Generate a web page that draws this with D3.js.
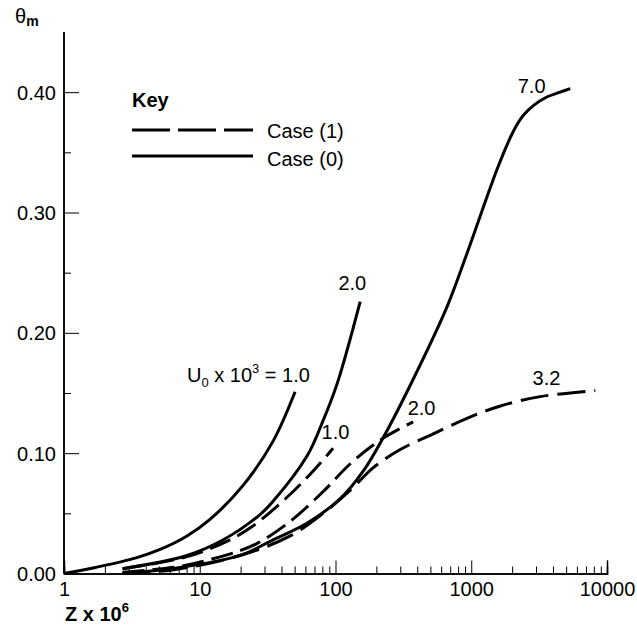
<!DOCTYPE html>
<html>
<head>
<meta charset="utf-8">
<script src="https://cdn.jsdelivr.net/npm/d3@7"></script>
<style>
  html, body { margin: 0; padding: 0; background: #fff; }
  svg { display: block; }
  text { font-family: "Liberation Sans", Arial, sans-serif; fill: #000; }
</style>
</head>
<body>
<svg id="chart" width="637" height="631"></svg>
<script>
// ---- data (Z x 10^6, theta_m) ----
const solid1Z  = [1, 1.7, 3.4, 5.1, 8, 11.9, 20.8, 34.7, 50.4];
const solid1T  = [0.0, 0.005, 0.013, 0.020, 0.031, 0.045, 0.073, 0.110, 0.151];

const solid2Z  = [2.7, 8.06, 14.9, 27.8, 34.7, 62, 81, 103, 152];
const solid2T  = [0.004, 0.015, 0.028, 0.049, 0.060, 0.098, 0.127, 0.158, 0.226];

const solid7Z  = [2.7, 7.2, 19.8, 34.7, 62, 108, 160, 225, 372, 665, 930, 1260, 1550, 1935, 2170, 2430, 2880, 3600, 4520, 5360];
const solid7T  = [0.0, 0.005, 0.015, 0.028, 0.042, 0.062, 0.085, 0.113, 0.161, 0.222, 0.266, 0.308, 0.336, 0.362, 0.373, 0.381, 0.389, 0.396, 0.400, 0.403];

const dashed1Z = [2.7, 8.06, 16.7, 24.3, 39, 62, 96];
const dashed1T = [0.004, 0.014, 0.028, 0.039, 0.058, 0.080, 0.104];

const dashed2Z = [2.7, 7.2, 12.3, 19.8, 26.5, 46, 81, 128, 214, 373];
const dashed2T = [0.001, 0.006, 0.012, 0.019, 0.025, 0.043, 0.068, 0.091, 0.111, 0.126];

const dashed3Z = [2.7, 6.3, 19.8, 46, 81, 128, 190, 300, 525, 930, 1620, 3220, 8200];
const dashed3T = [0.0, 0.003, 0.015, 0.031, 0.050, 0.069, 0.088, 0.103, 0.116, 0.129, 0.139, 0.147, 0.152];

const xMajorTicks = [1, 10, 100, 1000, 10000];
const xTickLabels = ["1", "10", "100", "1000", "10000"];
const yMajorTicks = [0, 0.1, 0.2, 0.3, 0.4];
const yTickLabels = ["0.00", "0.10", "0.20", "0.30", "0.40"];
const yMinorTicks = [0.05, 0.15, 0.25, 0.35];

const curveLabels = [
  {text: "2.0", z: 105, t: 0.236},
  {text: "1.0", z: 79, t: 0.112},
  {text: "2.0", z: 340, t: 0.132},
  {text: "3.2", z: 2830, t: 0.157},
  {text: "7.0", z: 2200, t: 0.399}
];

// ---- scales ----
const svg = d3.select("#chart");
const x = d3.scaleLog().domain([1, 10000]).range([64, 607]);
const y = d3.scaleLinear().domain([0, 0.45]).range([573.5, 32]);

// minor x ticks
const xMinorTicks = [];
[1, 10, 100, 1000].forEach(d => { for (let k = 2; k <= 9; k++) xMinorTicks.push(d * k); });

// ---- axes ----
const xAxisMinor = d3.axisBottom(x).tickValues(xMinorTicks).tickSize(-7).tickFormat("");
const xAxisMajor = d3.axisBottom(x).tickValues(xMajorTicks).tickSize(-13)
  .tickFormat((d, i) => xTickLabels[i]).tickPadding(6);
const gxMinor = svg.append("g").attr("transform", "translate(0,573.5)").call(xAxisMinor);
const gx = svg.append("g").attr("transform", "translate(0,573.5)").call(xAxisMajor);
[gxMinor, gx].forEach(g => {
  g.select(".domain").attr("stroke", "#000").attr("stroke-width", 1.5);
  g.selectAll(".tick line").attr("stroke", "#000").attr("stroke-width", 1);
});
gx.selectAll(".tick text").attr("font-size", 20).attr("font-family", "Liberation Sans, Arial, sans-serif")
  .attr("y", 8).attr("dy", "0.71em");

const yAxisMinor = d3.axisLeft(y).tickValues(yMinorTicks).tickSize(-7).tickFormat("");
const yAxisMajor = d3.axisLeft(y).tickValues(yMajorTicks).tickSize(-15)
  .tickFormat((d, i) => yTickLabels[i]).tickPadding(8);
const gyMinor = svg.append("g").attr("transform", "translate(64,0)").call(yAxisMinor);
const gy = svg.append("g").attr("transform", "translate(64,0)").call(yAxisMajor);
[gyMinor, gy].forEach(g => {
  g.select(".domain").attr("stroke", "#000").attr("stroke-width", 1.5).attr("d", "M0,32V573.5");
  g.selectAll(".tick line").attr("stroke", "#000").attr("stroke-width", 1);
});
gy.selectAll(".tick text").attr("font-size", 20).attr("font-family", "Liberation Sans, Arial, sans-serif")
  .attr("x", -8).attr("dy", "0.35em");

// ---- axis titles ----
const yt = svg.append("text").attr("x", 15).attr("y", 23).attr("font-size", 20);
yt.append("tspan").text("θ");
yt.append("tspan").attr("font-size", 14).attr("font-weight", "bold").attr("dy", 3).text("m");

const xt = svg.append("text").attr("x", 65).attr("y", 621).attr("font-size", 20).attr("font-weight", "bold");
xt.append("tspan").text("Z x 10");
xt.append("tspan").attr("font-size", 13).attr("dy", -9).text("6");

// ---- curves ----
const line = d3.line().x(d => x(d[0])).y(d => y(d[1])).curve(d3.curveCatmullRom.alpha(0.5));
const zip = (a, b) => a.map((v, i) => [v, b[i]]);
const series = [
  {z: solid1Z, t: solid1T, dash: null},
  {z: solid2Z, t: solid2T, dash: null},
  {z: solid7Z, t: solid7T, dash: null},
  {z: dashed1Z, t: dashed1T, dash: "22,8"},
  {z: dashed2Z, t: dashed2T, dash: "22,8"},
  {z: dashed3Z, t: dashed3T, dash: "28,9"}
];
svg.append("g").selectAll("path").data(series).join("path")
  .attr("d", d => line(zip(d.z, d.t)))
  .attr("fill", "none").attr("stroke", "#000").attr("stroke-width", 3)
  .attr("stroke-linecap", "butt")
  .attr("stroke-dasharray", d => d.dash);

// ---- curve labels ----
svg.append("g").selectAll("text").data(curveLabels).join("text")
  .attr("x", d => x(d.z)).attr("y", d => y(d.t)).attr("font-size", 20)
  .text(d => d.text);

const ul = svg.append("text").attr("x", 187).attr("y", 382).attr("font-size", 20);
ul.append("tspan").text("U");
ul.append("tspan").attr("font-size", 13).attr("dy", 5).text("0");
ul.append("tspan").attr("dy", -5).text(" x 10");
ul.append("tspan").attr("font-size", 13).attr("dy", -9).text("3");
ul.append("tspan").attr("dy", 9).text(" = 1.0");

// ---- legend ----
const lg = svg.append("g");
lg.append("text").attr("x", 132).attr("y", 107).attr("font-size", 20).attr("font-weight", "bold").text("Key");
lg.append("line").attr("x1", 132).attr("x2", 253).attr("y1", 130).attr("y2", 130)
  .attr("stroke", "#000").attr("stroke-width", 3).attr("stroke-dasharray", "38,8");
lg.append("text").attr("x", 267).attr("y", 138).attr("font-size", 20).text("Case (1)");
lg.append("line").attr("x1", 132).attr("x2", 253).attr("y1", 156).attr("y2", 156)
  .attr("stroke", "#000").attr("stroke-width", 3);
lg.append("text").attr("x", 267).attr("y", 166).attr("font-size", 20).text("Case (0)");
</script>
</body>
</html>
